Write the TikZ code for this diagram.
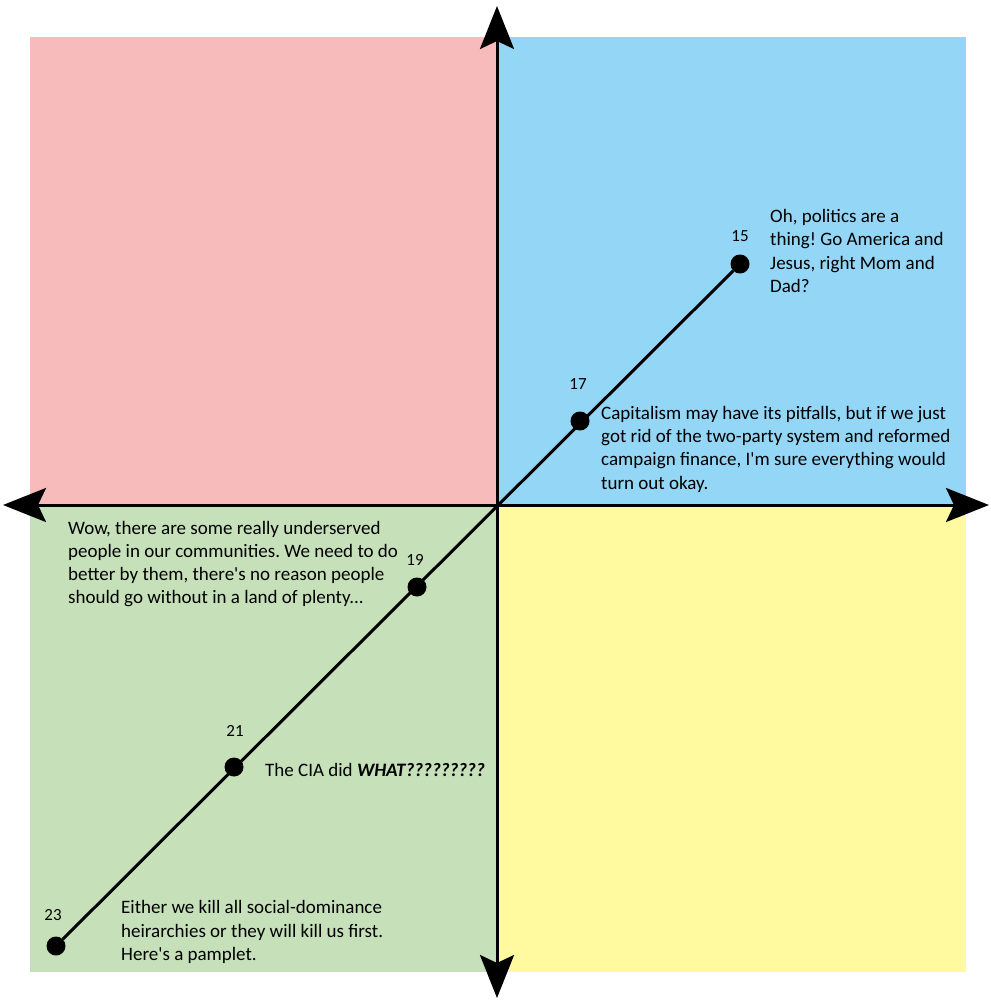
\documentclass[tikz,border=0pt]{standalone}
\usepackage{fontspec}
\setmainfont{Carlito}[Ligatures=TeXOff]
\usetikzlibrary{arrows.meta}
\frenchspacing

\definecolor{quadred}{RGB}{248,187,187}
\definecolor{quadblue}{RGB}{147,214,245}
\definecolor{quadgreen}{RGB}{198,225,186}
\definecolor{quadyellow}{RGB}{255,250,160}

\tikzset{
  axis/.style={line width=3pt,{Stealth[length=43pt,width=34pt,inset=8pt]}-{Stealth[length=43pt,width=34pt,inset=8pt]}},
  dot/.style={circle,fill=black,inner sep=0pt,minimum size=19pt},
  age/.style={inner sep=0pt,font=\fontsize{17}{18}\selectfont},
  quote/.style={align=left,anchor=west,inner sep=0pt,font=\fontsize{19}{23.3}\selectfont}
}

\begin{document}
\begin{tikzpicture}[x=1pt,y=-1pt]
\useasboundingbox (0,0) rectangle (990,1000);

% quadrants
\fill[quadred] (30,37) rectangle (497,505);
\fill[quadblue] (497,37) rectangle (966,505);
\fill[quadgreen] (30,505) rectangle (497,972);
\fill[quadyellow] (497,505) rectangle (966,972);

% axes
\coordinate (top) at (497,6);
\coordinate (bottom) at (497,998);
\coordinate (left) at (3,505);
\coordinate (right) at (989,505);
\draw[axis] (bottom) -- (top);
\draw[axis] (left) -- (right);

% the path
\node[dot] (p15) at (740,264) {};
\node[dot] (p17) at (580,421) {};
\node[dot] (p19) at (417,587) {};
\node[dot] (p21) at (234,767) {};
\node[dot] (p23) at (56,946) {};
\draw[line width=3pt] (p23) -- (p15);

\node[age] (a15) at (740,236) {15};
\node[age] (a17) at (578,384) {17};
\node[age] (a19) at (415,560) {19};
\node[age] (a21) at (235,731) {21};
\node[age] (a23) at (53,915) {23};

\node[quote] (q15) at (770,251) {Oh, politics are a\\thing! Go America and\\Jesus, right Mom and\\Dad?};
\node[quote] (q17) at (601,449) {Capitalism may have its pitfalls, but if we just\\got rid of the two-party system and reformed\\campaign finance, I'm sure everything would\\turn out okay.};
\node[quote] (q19) at (68,564) {Wow, there are some really underserved\\people in our communities. We need to do\\better by them, there's no reason people\\should go without in a land of plenty...};
\node[quote] (q21) at (265,770) {The CIA did \textbf{\textit{WHAT?????????}}};
\node[quote] (q23) at (121,932) {Either we kill all social-dominance\\heirarchies or they will kill us first.\\Here's a pamplet.};
\end{tikzpicture}
\end{document}
